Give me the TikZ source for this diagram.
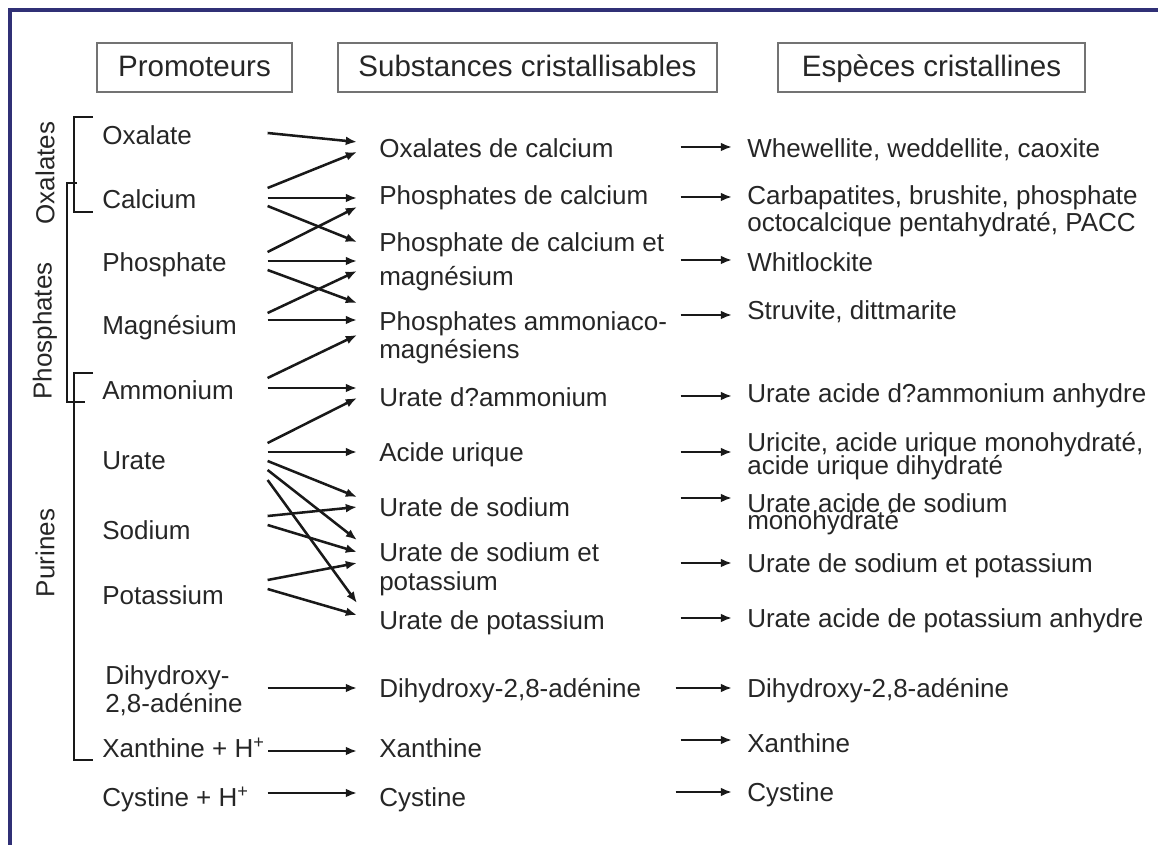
\documentclass[tikz,border=0pt]{standalone}
\usepackage{fontspec}
\setmainfont{Liberation Sans}
\definecolor{frameblue}{RGB}{48,48,118}
\usetikzlibrary{arrows.meta,calc}

\begin{document}
\begin{tikzpicture}[x=0.025cm,y=-0.025cm,>={Latex[length=0.28cm,width=0.22cm]},
  txt/.style={anchor=west,inner sep=0pt,align=flush left,text=black!85,
              font=\fontsize{18.5}{22}\selectfont},
  oneline/.style={text height=16pt,text depth=2.2pt},
  prom/.style={txt,text width=4.125cm},
  subst/.style={txt,text width=7.525cm},
  espece/.style={txt},
  head/.style={draw=black!55,line width=0.9pt,inner sep=0pt,minimum height=1.225cm,
               text height=17pt,text depth=4.4pt,
               text=black!85,font=\fontsize{21}{24}\selectfont},
  group/.style={rotate=90,inner sep=0pt,text=black!85,font=\fontsize{18.5}{22}\selectfont},
  link/.style={->,line width=1.8pt,black!90},
  brace/.style={line width=1.6pt,black!90}]
  \useasboundingbox (0,0) rectangle (1159,845);
  \draw[frameblue,line width=2.2pt] (10,845) -- (10,10) -- (1158,10);

  \node[head,minimum width=4.875cm] (hpro) at (194.5,67.5) {Promoteurs};
  \node[head,minimum width=9.475cm] (hsub) at (527.5,67.5) {Substances cristallisables};
  \node[head,minimum width=7.675cm] (hesp) at (931.5,67.5) {Espèces cristallines};

  \node[group] (goxa) at (45,173) {Oxalates};
  \node[group] (gpho) at (45,331) {Phosphates};
  \node[group] (gpur) at (45,553) {Purines};
  \draw[brace] (93,117) -- (74,117) -- (74,212) -- (93,212);
  \draw[brace] (77,183) -- (67,183) -- (67,402) -- (85,402);
  \draw[brace] (93,373) -- (74,373) -- (74,760) -- (93,760);

  \node[prom,oneline] (pox) at (102,135) {Oxalate};
  \node[prom,oneline] (pca) at (102,199) {Calcium};
  \node[prom,oneline] (pph) at (102,262) {Phosphate};
  \node[prom,oneline] (pmg) at (102,325) {Magnésium};
  \node[prom,oneline] (pam) at (102,390) {Ammonium};
  \node[prom,oneline] (pur) at (102,460) {Urate};
  \node[prom,oneline] (pna) at (102,530) {Sodium};
  \node[prom,oneline] (pk) at (102,595) {Potassium};
  \node[prom,text width=4.05cm] (pdh) at (105,691) {Dihydroxy-\\[-2pt]2,8-adénine};
  \node[txt,oneline] (pxa) at (102,748) {Xanthine + H\textsuperscript{+}};
  \node[prom,oneline] (pcy) at (102,797) {Cystine + H\textsuperscript{+}};

  \node[subst,oneline] (sox) at (379,148) {Oxalates de calcium};
  \node[subst,oneline] (sph) at (379,195) {Phosphates de calcium};
  \node[subst] (scm) at (379,262) {Phosphate de calcium et\\[2pt]magnésium};
  \node[subst] (sam) at (379,338) {Phosphates ammoniaco-\\[-2pt]magnésiens};
  \node[subst,oneline] (sud) at (379,397) {Urate d?ammonium};
  \node[subst,oneline] (sau) at (379,452) {Acide urique};
  \node[subst,oneline] (sna) at (379,507) {Urate de sodium};
  \node[subst] (snk) at (379,569) {Urate de sodium et\\[-1.5pt]potassium};
  \node[subst,oneline] (sk) at (379,620) {Urate de potassium};
  \node[subst,oneline] (sdh) at (379,688) {Dihydroxy-2,8-adénine};
  \node[subst,oneline] (sxa) at (379,748) {Xanthine};
  \node[subst,oneline] (scy) at (379,797) {Cystine};

  \node[espece,oneline] (eox) at (747,148) {Whewellite, weddellite, caoxite};
  \node[espece] (eph) at (747,211) {Carbapatites, brushite, phosphate\\[-3pt]octocalcique pentahydraté, PACC};
  \node[espece,oneline] (ecm) at (747,262) {Whitlockite};
  \node[espece,oneline] (eam) at (747,310) {Struvite, dittmarite};
  \node[espece,oneline] (eud) at (747,393) {Urate acide d?ammonium anhydre};
  \node[espece] (eau) at (747,456) {Uricite, acide urique monohydraté,\\[-5.5pt]acide urique dihydraté};
  \node[espece] (ena) at (747,514) {Urate acide de sodium\\[-10pt]monohydraté};
  \node[espece,oneline] (enk) at (747,563) {Urate de sodium et potassium};
  \node[espece,oneline] (ek) at (747,618) {Urate acide de potassium anhydre};
  \node[espece,oneline] (edh) at (747,688) {Dihydroxy-2,8-adénine};
  \node[espece,oneline] (exa) at (747,743) {Xanthine};
  \node[espece,oneline] (ecy) at (747,792) {Cystine};

  \draw[link] ($(pox.east)+(0,-2)$) -- ($(sox.west)+(-22,-6)$);
  \draw[link] ($(pca.east)+(0,-11)$) -- ($(sox.west)+(-22,4)$);
  \draw[link] ($(pca.east)+(0,-1)$) -- ($(sph.west)+(-22,3)$);
  \draw[link] ($(pca.east)+(0,7)$) -- ($(scm.west)+(-22,-20)$);
  \draw[link] ($(pph.east)+(0,-10)$) -- ($(sph.west)+(-22,12)$);
  \draw[link] ($(pph.east)+(0,-1)$) -- ($(scm.west)+(-22,-1)$);
  \draw[link] ($(pph.east)+(0,8)$) -- ($(sam.west)+(-22,-35)$);
  \draw[link] ($(pmg.east)+(0,-12)$) -- ($(scm.west)+(-22,9)$);
  \draw[link] ($(pmg.east)+(0,-5)$) -- ($(sam.west)+(-22,-18)$);
  \draw[link] ($(pam.east)+(0,-12)$) -- ($(sam.west)+(-22,-3)$);
  \draw[link] ($(pam.east)+(0,-2)$) -- ($(sud.west)+(-22,-9)$);
  \draw[link] ($(pur.east)+(0,-17)$) -- ($(sud.west)+(-22,1)$);
  \draw[link] ($(pur.east)+(0,-8)$) -- ($(sau.west)+(-22,0)$);
  \draw[link] ($(pur.east)+(0,1)$) -- ($(sna.west)+(-22,-10)$);
  \draw[link] ($(pur.east)+(0,10)$) -- ($(snk.west)+(-22,-29)$);
  \draw[link] ($(pur.east)+(0,20)$) -- ($(sk.west)+(-22,-17)$);
  \draw[link] ($(pna.east)+(0,-14)$) -- ($(sna.west)+(-22,0)$);
  \draw[link] ($(pna.east)+(0,-5)$) -- ($(snk.west)+(-22,-17)$);
  \draw[link] ($(pk.east)+(0,-15)$) -- ($(snk.west)+(-22,-6)$);
  \draw[link] ($(pk.east)+(0,-6)$) -- ($(sk.west)+(-22,-5)$);
  \draw[link] ($(pdh.east)+(0,-3)$) -- ($(sdh.west)+(-22,0)$);
  \draw[link] ($(pxa.east)+(3,3)$) -- ($(sxa.west)+(-22,3)$);
  \draw[link] ($(pcy.east)+(0,-4)$) -- ($(scy.west)+(-22,-4)$);

  \draw[link] ($(sox.east)+(0,-1)$) -- ($(eox.west)+(-15,-1)$);
  \draw[link] ($(sph.east)+(0,2)$) -- ($(eph.west)+(-15,-14)$);
  \draw[link] ($(scm.east)+(0,-2)$) -- ($(ecm.west)+(-15,-2)$);
  \draw[link] ($(sam.east)+(0,-23)$) -- ($(eam.west)+(-15,5)$);
  \draw[link] ($(sud.east)+(0,-1)$) -- ($(eud.west)+(-15,3)$);
  \draw[link] (sau.east) -- ($(eau.west)+(-15,-4)$);
  \draw[link] ($(sna.east)+(0,-9)$) -- ($(ena.west)+(-15,-16)$);
  \draw[link] ($(snk.east)+(0,-6)$) -- ($(enk.west)+(-15,0)$);
  \draw[link] ($(sk.east)+(0,-2)$) -- ($(ek.west)+(-15,0)$);
  \draw[link] ($(sdh.east)+(-5,0)$) -- ($(edh.west)+(-15,0)$);
  \draw[link] ($(sxa.east)+(0,-8)$) -- ($(exa.west)+(-15,-3)$);
  \draw[link] ($(scy.east)+(-5,-5)$) -- ($(ecy.west)+(-15,0)$);
\end{tikzpicture}
\end{document}
